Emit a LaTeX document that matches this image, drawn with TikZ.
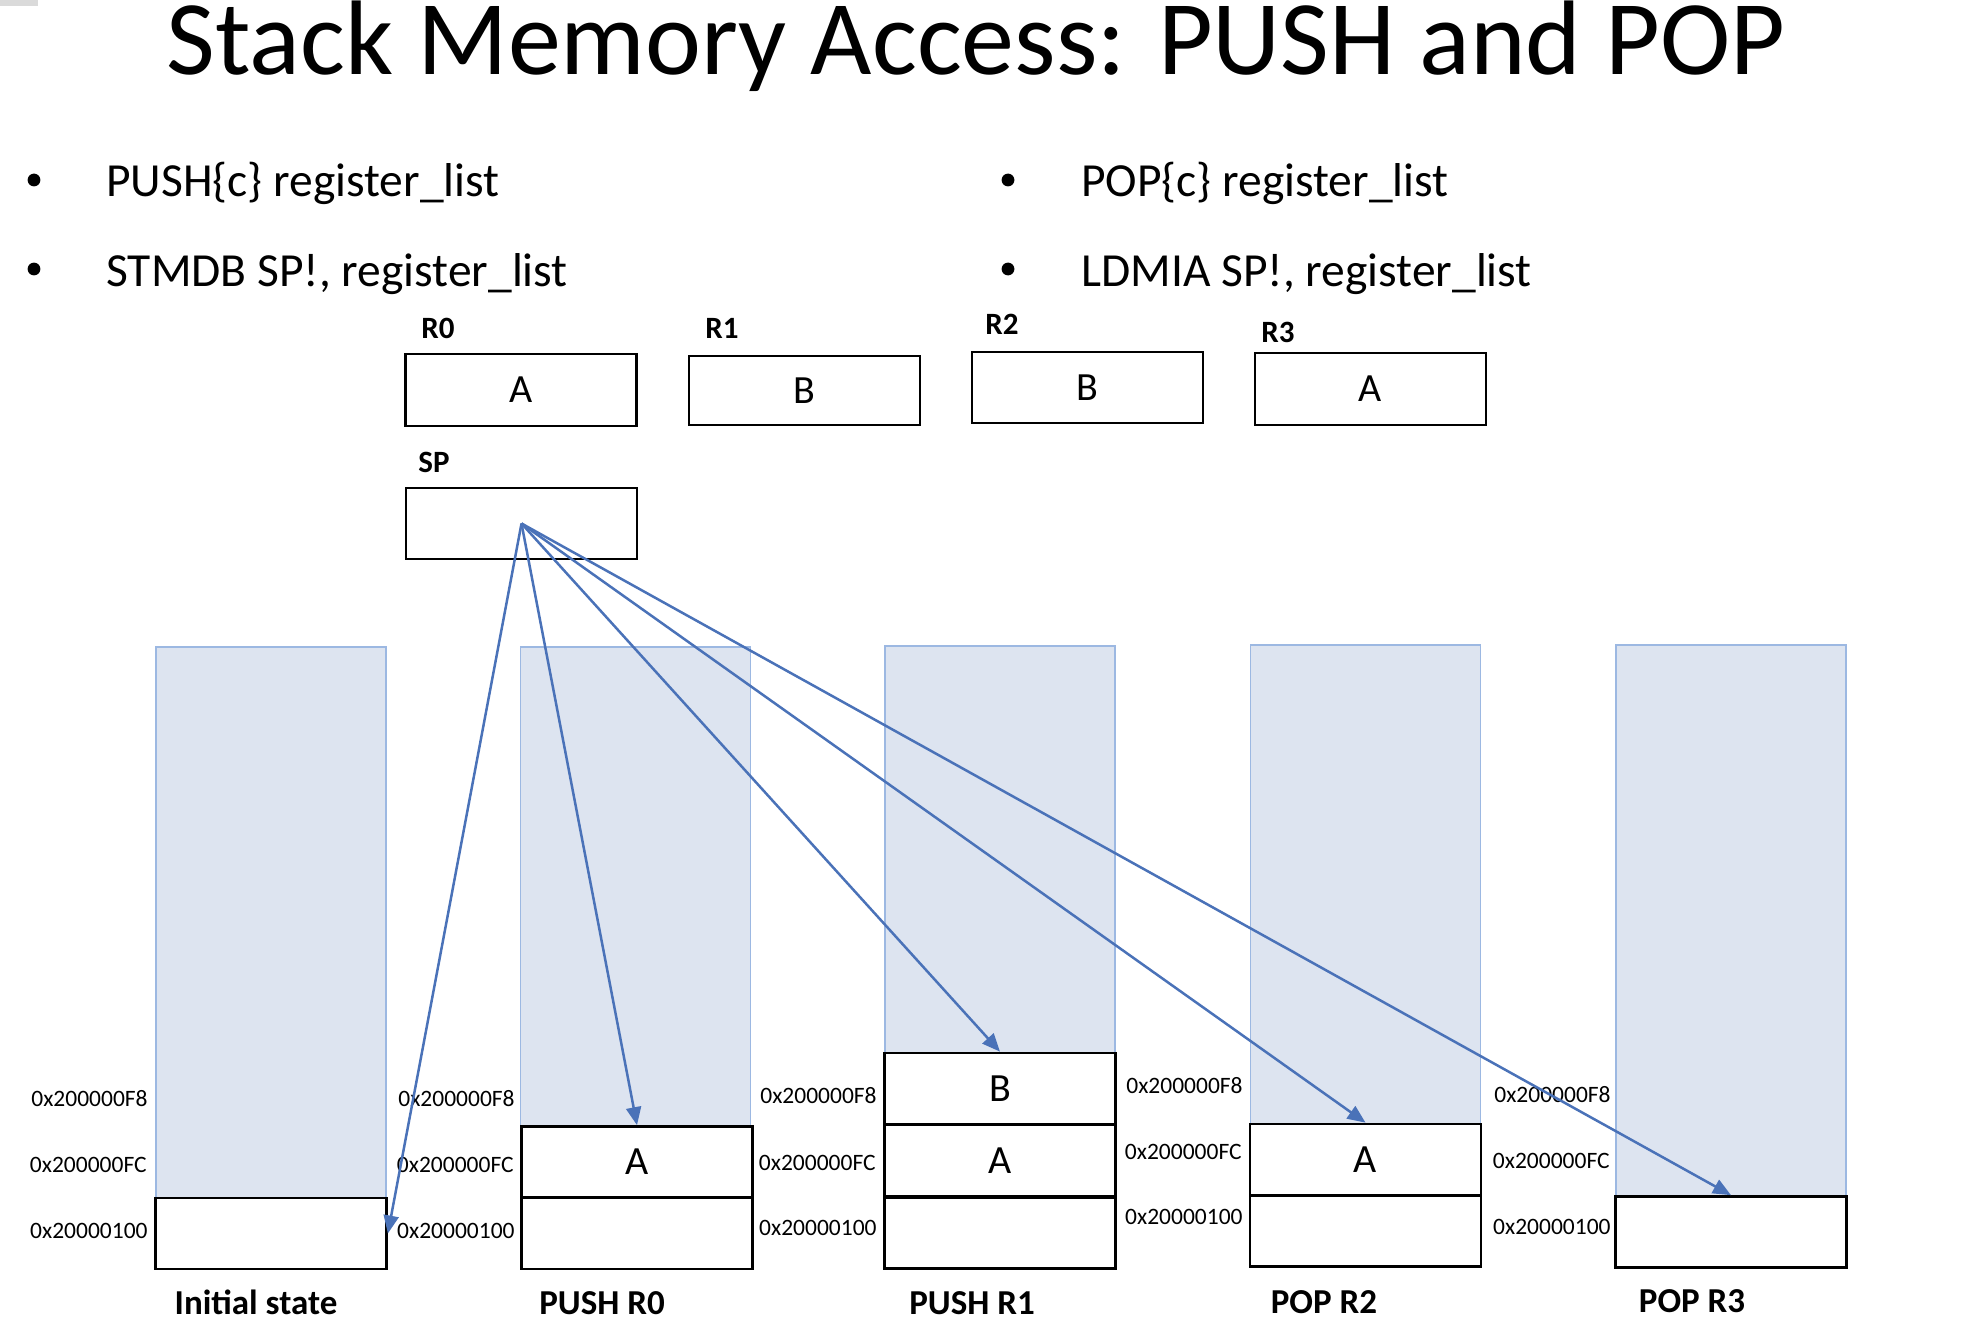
\documentclass[tikz,border=0pt]{standalone}
\usepackage{fontspec}
\setmainfont{Carlito}
\usetikzlibrary{arrows.meta}
\definecolor{colfill}{HTML}{DDE4F0}
\definecolor{colline}{HTML}{9CB8E2}
\definecolor{arrowblue}{HTML}{4A72B8}
\definecolor{cornergray}{HTML}{DADADA}
\newcommand{\myfs}[1]{\fontsize{#1}{#1}\selectfont}
\begin{document}
\begin{tikzpicture}[x=0.5pt,y=-0.5pt,
  titletext/.style={inner sep=0pt,anchor=base,font=\myfs{53pt}},
  bullettext/.style={inner sep=0pt,anchor=base west,font=\myfs{23.75pt}},
  bulletdot/.style={circle,fill=black,inner sep=0pt,minimum size=6.4pt},
  reglabel/.style={inner sep=0pt,anchor=base west,font=\myfs{15.5pt}\bfseries},
  regbox/.style={draw=black,line width=1.2pt,inner sep=0pt,minimum width=115.5pt,font=\myfs{20pt}},
  stackcol/.style={fill=colfill,draw=colline,line width=0.9pt,inner sep=0pt,minimum width=115pt},
  membox/.style={draw=black,fill=white,line width=1.35pt,inner sep=0pt,minimum width=115.5pt,minimum height=35.5pt,font=\myfs{20pt}},
  addr/.style={inner sep=0pt,anchor=east,font=\myfs{11.75pt}},
  collabel/.style={inner sep=0pt,anchor=base,font=\myfs{17.5pt}\bfseries},
  sparrow/.style={draw=arrowblue,line width=1.25pt,-{Triangle[length=9pt,width=7.5pt]}}
]
\useasboundingbox (0,0) rectangle (1970,1332);
\fill[cornergray] (0,0) rectangle (38,6);

% title
\node[titletext] (title) at (976,75) {Stack Memory Access: PUSH and POP};

% bullets
\node[bulletdot] (b1) at (34,180) {};
\node[bullettext] (t1) at (106,197) {PUSH\{c\} register\_list};
\node[bulletdot] (b2) at (34,269) {};
\node[bullettext] (t2) at (106,286) {STMDB SP!, register\_list};
\node[bulletdot] (b3) at (1008,180) {};
\node[bullettext] (t3) at (1081,197) {POP\{c\} register\_list};
\node[bulletdot] (b4) at (1008,269) {};
\node[bullettext] (t4) at (1081,286) {LDMIA SP!, register\_list};

% registers
\node[reglabel] (lr0) at (421,338) {R0};
\node[reglabel] (lr1) at (705,338) {R1};
\node[reglabel] (lr2) at (985,335) {R2};
\node[reglabel] (lr3) at (1261,343) {R3};
\node[reglabel] (lsp) at (418,472) {SP};

\node[regbox,minimum height=36pt] (r0) at (521,390) {A};
\node[regbox,minimum height=34.5pt] (r1) at (804.5,390.5) {B};
\node[regbox,minimum height=35.5pt] (r2) at (1087.5,387.5) {B};
\node[regbox,minimum height=36pt] (r3) at (1370.5,389) {A};
\node[regbox,minimum height=35.5pt] (sp) at (521.5,523.5) {};

% stack columns
\node[stackcol,minimum height=311pt] (col1) at (271,958) {};
\node[stackcol,minimum height=311pt] (col2) at (635.5,958) {};
\node[stackcol,minimum height=311.5pt] (col3) at (1000,957.5) {};
\node[stackcol,minimum height=311pt] (col4) at (1365.5,956) {};
\node[stackcol,minimum height=311.5pt] (col5) at (1731,956.5) {};

% memory cells
\node[membox] (m1a) at (271,1233.5) {};
\node[membox] (m2a) at (637,1162) {A};
\node[membox] (m2b) at (637,1233.5) {};
\node[membox] (m3a) at (1000,1088.5) {B};
\node[membox] (m3b) at (1000,1160.5) {A};
\node[membox] (m3c) at (1000,1233) {};
\node[membox] (m4a) at (1365.5,1159.5) {A};
\node[membox] (m4b) at (1365.5,1231) {};
\node[membox] (m5a) at (1731,1232) {};

% addresses
\node[addr] (a11) at (148,1099) {0x200000F8};
\node[addr] (a12) at (147,1165) {0x200000FC};
\node[addr] (a13) at (148,1231) {0x20000100};
\node[addr] (a21) at (515,1099) {0x200000F8};
\node[addr] (a22) at (514,1165) {0x200000FC};
\node[addr] (a23) at (515,1231) {0x20000100};
\node[addr] (a31) at (877,1096) {0x200000F8};
\node[addr] (a32) at (876,1163) {0x200000FC};
\node[addr] (a33) at (877,1228) {0x20000100};
\node[addr] (a41) at (1243,1086) {0x200000F8};
\node[addr] (a42) at (1242,1152) {0x200000FC};
\node[addr] (a43) at (1243,1217) {0x20000100};
\node[addr] (a51) at (1611,1095) {0x200000F8};
\node[addr] (a52) at (1610,1161) {0x200000FC};
\node[addr] (a53) at (1611,1227) {0x20000100};

% column labels
\node[collabel] (c1) at (256,1314) {Initial state};
\node[collabel] (c2) at (602,1314) {PUSH R0};
\node[collabel] (c3) at (972,1314) {PUSH R1};
\node[collabel] (c4) at (1324,1313) {POP R2};
\node[collabel] (c5) at (1692,1312) {POP R3};

% SP arrows
\draw[sparrow] (sp.center) -- (m1a.east);
\draw[sparrow] (sp.center) -- (m2a.north);
\draw[sparrow] (sp.center) -- (m3a.north);
\draw[sparrow] (sp.center) -- (m4a.north);
\draw[sparrow] (sp.center) -- (m5a.north);
\end{tikzpicture}
\end{document}
